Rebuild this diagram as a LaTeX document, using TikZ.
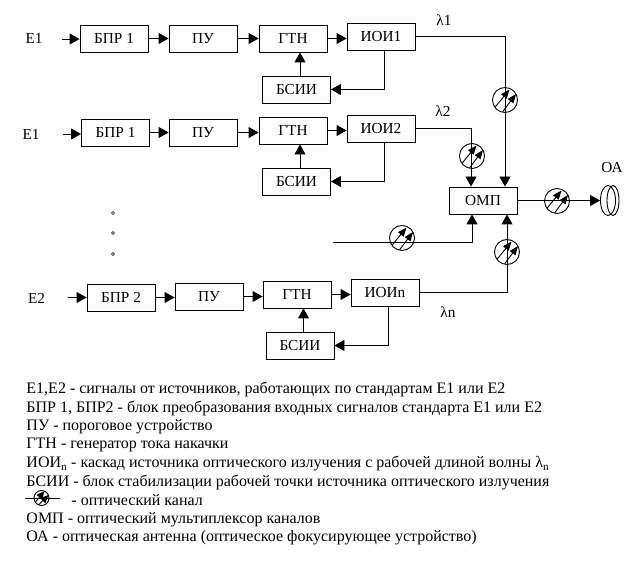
\documentclass[tikz,border=0pt]{standalone}
\usepackage{fontspec}
\setmainfont{Liberation Serif}
\usetikzlibrary{arrows.meta}
\usetikzlibrary{positioning}
\usetikzlibrary{shapes.geometric}
\tikzset{>={Triangle[width=11pt,length=10pt]}}
\tikzset{every node/.style={font=\fontsize{15.3pt}{18pt}\selectfont}}
\tikzset{optic/.style={circle,draw,inner sep=0pt,minimum size=25pt,
		path picture={
			\draw[-{Triangle[width=7pt,length=9pt]}] (-10pt,-7.3pt) -- (4.5pt,10.5pt);
			\draw[-{Triangle[width=7pt,length=9pt]}] (-2.3pt,-11.7pt) -- (11pt,6pt);
		}}}
\tikzset{opticsmall/.style={circle,draw,inner sep=0pt,minimum size=15pt,
		path picture={
			\draw[-{Triangle[width=7pt,length=8pt]}] (-6pt,-4pt) -- (3pt,7pt);
			\draw[-{Triangle[width=7pt,length=8pt]}] (-3pt,-7pt) -- (7pt,3pt);
		}}}

\begin{document}
\begin{tikzpicture}[x=1pt,y=-1pt,->,line width=0.9pt,node distance=89pt]
		\tikzstyle{block}=[draw,inner sep=0pt,minimum width=68pt,minimum height=27pt]
		\tikzstyle{legend}=[anchor=base west,inner sep=0pt,font=\fontsize{16pt}{18pt}\selectfont]
		\useasboundingbox (0,0) rectangle (643,569);
		
		% first row
		\node[block] (bpr1) at (114,38.5) {БПР 1};
		\node[block] (pu1) [right of=bpr1] {ПУ};
		\node[block] (gtn1) [right of=pu1,xshift=1pt] {ГТН};
		\node[block] (ioi1) [right of=gtn1,xshift=-1pt,yshift=1.75pt] {ИОИ1};
		\node[block] (bsii1) [below of=gtn1,node distance=51pt,xshift=3.5pt] {БСИИ};
		
		% second row
		\node[block] (bpr2) at (115.5,132.5) {БПР 1};
		\node[block] (pu2) [right of=bpr2,xshift=-1.5pt] {ПУ};
		\node[block] (gtn2) [right of=pu2,xshift=1pt,yshift=2pt] {ГТН};
		\node[block] (ioi2) [right of=gtn2,xshift=-1pt,yshift=2pt] {ИОИ2};
		\node[block] (bsii2) [below of=gtn2,node distance=51pt,xshift=3.5pt] {БСИИ};
		
		% last row
		\node[block] (bpr3) at (121,297.5) {БПР 2};
		\node[block] (pu3) [right of=bpr3,xshift=-1pt,yshift=1pt] {ПУ};
		\node[block] (gtn3) [right of=pu3,xshift=-1pt,yshift=2pt] {ГТН};
		\node[block] (ioi3) [right of=gtn3,xshift=-1pt,yshift=2pt] {ИОИn};
		\node[block] (bsii3) [below of=gtn3,node distance=51pt,xshift=3pt] {БСИИ};
		
		\node[block] (omp) at (483,200.5) {ОМП};
		\node[ellipse,draw,inner sep=0pt,minimum width=15pt,minimum height=30pt] (oa) at (608,200.5) {};
		\node[ellipse,draw,inner sep=0pt,minimum width=12pt,minimum height=30pt] (oain) at (613,200.5) {};
		
		% inputs and labels
		\node (e1a) at (34,38) {Е1};
		\node (e1b) at (31,134) {Е1};
		\node (e2) at (36.5,298) {Е2};
		\node (la1) at (444,20) {λ1};
		\node (la2) at (443,111) {λ2};
		\node (lan) at (448,312) {λn};
		\node (oatext) at (612,168) {ОА};
		\coordinate (in1) at (62,39);
		\coordinate (in2) at (63,134);
		\coordinate (in3) at (68,297.5);
		\coordinate (chin) at (333,242);
		\node[circle,draw,inner sep=0pt,minimum size=3pt,line width=0.7pt] (dot1) at (113,213) {};
		\node[circle,draw,inner sep=0pt,minimum size=3pt,line width=0.7pt] (dot2) at (113,233) {};
		\node[circle,draw,inner sep=0pt,minimum size=3pt,line width=0.7pt] (dot3) at (113,254) {};
		
		\foreach \i in {1,2,3} {
			\draw (in\i) -- (in\i -| bpr\i.west);
			\draw (bpr\i.east) -- (bpr\i.east -| pu\i.west);
			\draw (pu\i.east) -- (pu\i.east -| gtn\i.west);
			\draw (gtn\i.east) -- (gtn\i.east -| ioi\i.west);
			\draw ([xshift=3pt]ioi\i.south) |- (bsii\i.east);
			\draw ([xshift=3.5pt]bsii\i.north) -- ([xshift=3.5pt]bsii\i.north |- gtn\i.south);
		}
		
		\draw (ioi1.east) -| ([xshift=22pt]omp.north);
		\draw (ioi2.east) -| ([xshift=-12pt]omp.north);
		\draw (ioi3.east) -| ([xshift=24pt]omp.south);
		\draw (chin) -| ([xshift=-11pt]omp.south);
		\draw (omp.east) -- (oa.west);
		
		% optical channels over the lines
		\node[optic] (ch1) at (505,100) {};
		\node[optic] (ch2) at (472,156) {};
		\node[optic] (ch3) at (402,238) {};
		\node[optic] (chn) at (507,252) {};
		\node[optic] (chout) at (557,201) {};
		
		% legend
		\node[legend] (lg1) at (26,394) {Е1,Е2 - сигналы от источников, работающих по стандартам Е1 или Е2};
		\node[legend] (lg2) at (26,412.7) {БПР 1, БПР2 - блок преобразования входных сигналов стандарта Е1 или Е2};
		\node[legend] (lg3) at (26,431) {ПУ - пороговое устройство};
		\node[legend] (lg4) at (26,449) {ГТН - генератор тока накачки};
		\node[legend] (lg5) at (26,467.7) {ИОИ\textsubscript{n} - каскад источника оптического излучения с рабочей длиной волны λ\textsubscript{n}};
		\node[legend] (lg6) at (26,486) {БСИИ - блок стабилизации рабочей точки источника оптического излучения};
		\node[legend] (lg7) at (71,505) {- оптический канал};
		\node[legend] (lg8) at (26,523) {ОМП - оптический мультиплексор каналов};
		\node[legend] (lg9) at (26,541.7) {ОА - оптическая антенна (оптическое фокусирующее устройство)};
		\coordinate (lga) at (25,498);
		\coordinate (lgb) at (60,498);
		\draw[-] (lga) -- (lgb);
		\node[opticsmall] (lgc) at (41.5,498) {};
\end{tikzpicture}
\end{document}
